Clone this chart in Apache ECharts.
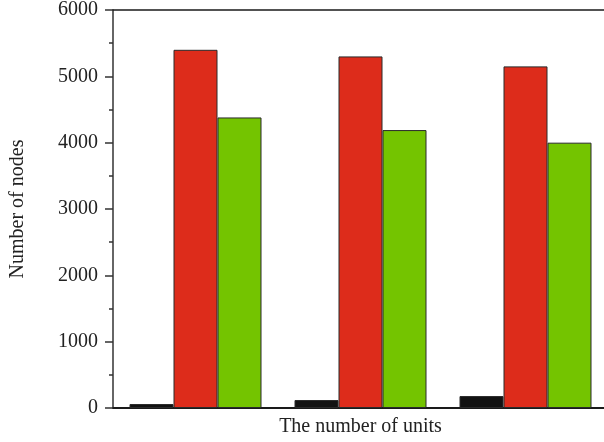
<!DOCTYPE html>
<html>
<head>
<meta charset="utf-8">
<script src="https://cdn.jsdelivr.net/npm/echarts@6/dist/echarts.min.js"></script>
<style>
  html, body { margin: 0; padding: 0; background: #fff; }
  #chart { width: 604px; height: 442px; }
</style>
</head>
<body>
<div id="chart"></div>
<script>
// ---------------- Data ----------------
let groups = ["1", "2", "3"];
let black_values = [60, 120, 180];
let red_values = [5400, 5300, 5150];
let green_values = [4380, 4190, 4000];

// ---------------- Chart ----------------
let chart_dom = document.getElementById("chart");
let chart = echarts.init(chart_dom);
let font_family = "Liberation Serif";

function make_bar(name, values, color) {
    return {
        type: 'bar',
        name: name,
        data: values,
        barGap: '0%',
        barCategoryGap: '20%',
        itemStyle: {color: color, borderColor: '#2a2a2a', borderWidth: 1}
    };
}

let option = {
    animation: false,
    backgroundColor: '#fff',
    grid: {left: 113, top: 10, bottom: 34, width: 495, outerBoundsMode: 'none', containLabel: false},
    xAxis: [
        {
            type: 'category',
            data: groups,
            position: 'bottom',
            name: 'The number of units',
            nameLocation: 'middle',
            nameGap: 9,
            nameTextStyle: {fontFamily: font_family, fontSize: 20, color: '#222'},
            axisLine: {lineStyle: {color: '#1a1a1a', width: 2}},
            axisTick: {show: false},
            axisLabel: {show: false}
        },
        {
            type: 'category',
            data: groups,
            position: 'top',
            axisLine: {lineStyle: {color: '#1a1a1a', width: 1.5}},
            axisTick: {show: false},
            axisLabel: {show: false}
        }
    ],
    yAxis: {
        type: 'value',
        min: 0,
        max: 6000,
        interval: 1000,
        name: 'Number of nodes',
        nameLocation: 'middle',
        nameGap: 85,
        nameTextStyle: {fontFamily: font_family, fontSize: 20, color: '#222'},
        axisLine: {show: true, lineStyle: {color: '#333', width: 1.5}},
        axisTick: {show: true, length: 8, lineStyle: {color: '#333', width: 1.5}},
        minorTick: {show: true, splitNumber: 2, length: 4, lineStyle: {color: '#333', width: 1.5}},
        axisLabel: {
            fontFamily: font_family, fontSize: 20, color: '#222', margin: 15,
            formatter: function (v) { return String(v); }
        },
        splitLine: {show: false}
    },
    series: [
        make_bar('a', black_values, '#121212'),
        make_bar('b', red_values, '#dd2c1b'),
        make_bar('c', green_values, '#74c400')
    ]
};
chart.setOption(option);
</script>
</body>
</html>
